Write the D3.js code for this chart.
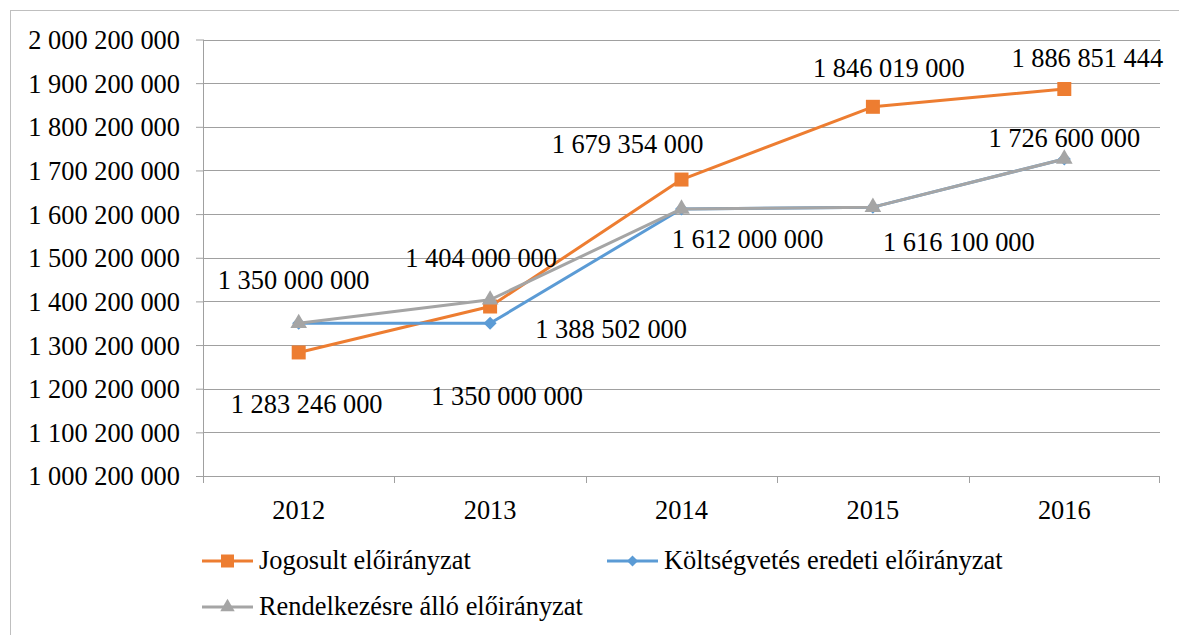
<!DOCTYPE html>
<html>
<head>
<meta charset="utf-8">
<script src="https://cdn.jsdelivr.net/npm/d3@7"></script>
</head>
<body style="margin:0">
<script>
const years = ["2012", "2013", "2014", "2015", "2016"];
const jogosult = [1283246000, 1388502000, 1679354000, 1846019000, 1886851444];
const eredeti = [1350000000, 1350000000, 1612000000, 1616100000, 1726600000];
const rendelkezesre = [1350000000, 1404000000, 1612000000, 1616100000, 1726600000];
const yTicks = d3.range(1000200000, 2000200001, 100000000);

// where each data label sits relative to its point (null = no label)
const jogosultLabels = [[8, 61], [121, 31], [-54, -27], [16, -30], [23, -22]];
const eredetiLabels = [null, [17, 82], null, null, null];
const rendelkezesreLabels = [[-5, -34], [-9, -33], [66, 39], [86, 44], [0, -12]];

const width = 1179;
const height = 635;
const plot = { left: 203, right: 1160, top: 39.5, bottom: 476 };
const fontSize = 26.4;

const series = [
  { name: "Jogosult előirányzat", color: "#ed7d31", values: jogosult, labels: jogosultLabels,
    symbol: d3.symbol(d3.symbolSquare, 196), legendSymbol: d3.symbol(d3.symbolSquare, 169), rotate: 0 },
  { name: "Költségvetés eredeti előirányzat", color: "#5b9bd5", values: eredeti, labels: eredetiLabels,
    symbol: d3.symbol(d3.symbolSquare, 85), legendSymbol: d3.symbol(d3.symbolSquare, 60), rotate: 45 },
  { name: "Rendelkezésre álló előirányzat", color: "#a5a5a5", values: rendelkezesre, labels: rendelkezesreLabels,
    symbol: d3.symbol(d3.symbolTriangle, 120), legendSymbol: d3.symbol(d3.symbolTriangle, 90), rotate: 0 }
];

const locale = d3.formatLocale({ thousands: " ", grouping: [3], decimal: ",", currency: ["", ""] });
const fmt = locale.format(",");

const x = d3.scaleBand(years, [plot.left, plot.right]);
const y = d3.scaleLinear([1000200000, 2000200000], [plot.bottom, plot.top]);
const cx = d => x(d) + x.bandwidth() / 2;

const svg = d3.select("body").append("svg")
  .attr("width", width)
  .attr("height", height);

const serifText = sel => sel
  .style("font-family", '"Liberation Serif"')
  .attr("font-size", fontSize)
  .attr("fill", "#000");

// outer frame
svg.append("rect")
  .attr("x", 10.5).attr("y", 10.5)
  .attr("width", width).attr("height", height)
  .attr("fill", "none")
  .attr("stroke", "#bfbfbf");

// y axis labels + ticks
svg.append("g")
  .attr("class", "y-axis")
  .attr("transform", `translate(${plot.left},0)`)
  .call(d3.axisLeft(y).tickValues(yTicks).tickFormat(fmt).tickSize(7).tickPadding(16))
  .attr("font-family", null)
  .attr("font-size", null)
  .call(g => g.select(".domain").remove())
  .call(g => g.selectAll(".tick line").attr("stroke", "#a0a0a0"))
  .call(g => g.selectAll(".tick text").call(serifText).attr("dy", "0.34em"));

// gridlines
svg.append("g")
  .attr("class", "grid")
  .selectAll("line")
  .data(yTicks.slice(1))
  .join("line")
  .attr("x1", plot.left).attr("x2", plot.right)
  .attr("y1", d => Math.round(y(d)) + 0.5).attr("y2", d => Math.round(y(d)) + 0.5)
  .attr("stroke", "#a0a0a0");

svg.append("line")
  .attr("x1", plot.left + 0.5).attr("x2", plot.left + 0.5)
  .attr("y1", plot.top).attr("y2", plot.bottom + 7)
  .attr("stroke", "#a0a0a0");

// x axis
svg.append("g")
  .attr("class", "x-axis")
  .attr("transform", `translate(0,${Math.round(plot.bottom) + 0.5})`)
  .call(d3.axisBottom(x).tickSize(0).tickPadding(24))
  .attr("font-family", null)
  .attr("font-size", null)
  .call(g => g.select(".domain").attr("stroke", "#a0a0a0").attr("d", `M${plot.left},0H${plot.right}`))
  .call(g => g.selectAll(".tick text").call(serifText));

svg.append("g")
  .attr("class", "x-ticks")
  .selectAll("line")
  .data(years.concat([null]))
  .join("line")
  .attr("x1", d => d === null ? plot.right - 0.5 : Math.round(x(d)) + 0.5)
  .attr("x2", d => d === null ? plot.right - 0.5 : Math.round(x(d)) + 0.5)
  .attr("y1", plot.bottom)
  .attr("y2", plot.bottom + 7)
  .attr("stroke", "#a0a0a0");

// lines and markers
const line = d3.line()
  .x((v, i) => cx(years[i]))
  .y(v => y(v));

const seriesG = svg.selectAll(".series")
  .data(series)
  .join("g")
  .attr("class", "series");

seriesG.append("path")
  .attr("d", d => line(d.values))
  .attr("fill", "none")
  .attr("stroke", d => d.color)
  .attr("stroke-width", 3)
  .attr("stroke-linejoin", "round");

seriesG.each(function (s) {
  d3.select(this).selectAll(".marker")
    .data(s.values)
    .join("path")
    .attr("class", "marker")
    .attr("d", s.symbol())
    .attr("fill", s.color)
    .attr("transform", (v, i) => `translate(${cx(years[i])},${y(v)}) rotate(${s.rotate})`);
});

// data labels
const labelData = [];
series.forEach(s => s.values.forEach((v, i) => {
  if (s.labels[i]) labelData.push({ v, i, off: s.labels[i] });
}));
svg.append("g")
  .attr("class", "labels")
  .selectAll("text")
  .data(labelData)
  .join("text")
  .attr("x", d => cx(years[d.i]) + d.off[0])
  .attr("y", d => y(d.v) + d.off[1])
  .attr("text-anchor", "middle")
  .call(serifText)
  .text(d => fmt(d.v));

// legend
const legendPos = [[202, 561], [607, 561], [202, 607]];
const legend = svg.append("g")
  .attr("class", "legend")
  .selectAll("g")
  .data(series)
  .join("g")
  .attr("transform", (d, i) => `translate(${legendPos[i][0]},${legendPos[i][1]})`);

legend.append("line")
  .attr("x1", 0).attr("x2", 51)
  .attr("stroke", d => d.color)
  .attr("stroke-width", 3);
legend.append("path")
  .attr("d", d => d.legendSymbol())
  .attr("fill", d => d.color)
  .attr("transform", d => `translate(25.5,0) rotate(${d.rotate})`);
legend.append("text")
  .attr("x", 57)
  .attr("y", 8)
  .call(serifText)
  .text(d => d.name);
</script>
</body>
</html>
